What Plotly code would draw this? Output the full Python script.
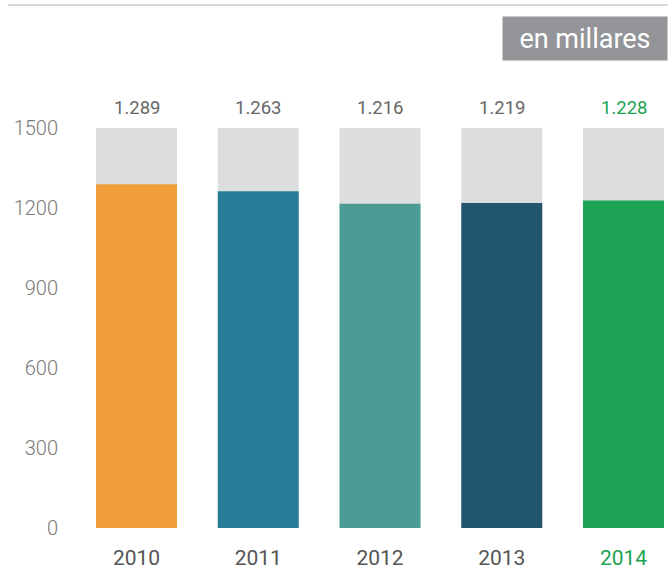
import plotly.graph_objects as go

# data (thousands)
years = ["2010", "2011", "2012", "2013", "2014"]
values = [1289, 1263, 1216, 1219, 1228]
value_labels = ["1.289", "1.263", "1.216", "1.219", "1.228"]
bar_colors = ["#f09d3a", "#2a7d99", "#4a9b94", "#22566e", "#1ba353"]
label_colors = ["#666666", "#666666", "#666666", "#666666", "#1ba353"]
axis_max = 1500
y_ticks = [0, 300, 600, 900, 1200, 1500]

x_pos = list(range(len(years)))
bar_width = 0.665

fig = go.Figure()

# grey background bars up to the axis max
fig.add_trace(go.Bar(
    x=x_pos,
    y=[axis_max] * len(years),
    width=bar_width,
    marker_color="#dcdddf",
    marker_line_width=0,
    hoverinfo="skip",
))

fig.add_trace(go.Bar(
    x=x_pos,
    y=values,
    width=bar_width,
    marker_color=bar_colors,
    marker_line_width=0,
    hoverinfo="skip",
))

# value labels above each bar
for i, (lbl, col) in enumerate(zip(value_labels, label_colors)):
    fig.add_annotation(
        x=i, y=axis_max, text=lbl, showarrow=False,
        yanchor="bottom", yshift=7,
        font=dict(family="Roboto", size=18.5, color=col),
    )

# unit tag top right
fig.add_annotation(
    xref="paper", yref="paper", x=1, y=(528 - 16) / 440,
    xanchor="right", yanchor="top",
    text="en millares", showarrow=False,
    width=162, height=41, bgcolor="#939598",
    font=dict(family="Roboto", size=27, color="white"),
)

# thin rule at the top
fig.add_shape(
    type="line", xref="paper", yref="paper",
    x0=(8 - 76) / 592, x1=1, y0=(528 - 5) / 440, y1=(528 - 5) / 440,
    line=dict(color="#c8cccf", width=1.5),
)

tick_text = list(years[:4]) + [f"<span style='color:{label_colors[4]}'>{years[4]}</span>"]

fig.update_layout(
    width=668,
    height=572,
    barmode="overlay",
    showlegend=False,
    plot_bgcolor="white",
    paper_bgcolor="white",
    margin=dict(l=76, r=0, t=88, b=44),
    font=dict(family="Roboto"),
    xaxis=dict(
        range=[-0.497, -0.497 + 592 / 121.75],
        tickvals=x_pos,
        ticktext=tick_text,
        tickfont=dict(family="Roboto", size=21, color="#555555"),
        showgrid=False, zeroline=False, showline=False, ticks="",
        ticklabelstandoff=15,
        automargin=False,
    ),
    yaxis=dict(
        range=[0, 1650],
        tickvals=y_ticks,
        tickfont=dict(family="Roboto", size=20, color="#7a7a7a", weight=300),
        showgrid=False, zeroline=False, showline=False, ticks="",
        ticklabelstandoff=17,
        automargin=False,
    ),
)

# page body has a default margin; drop it so the figure fills the window
fig.write_html(
    "out.html",
    config={"displayModeBar": False},
    post_script="document.body.style.margin='0';",
)
